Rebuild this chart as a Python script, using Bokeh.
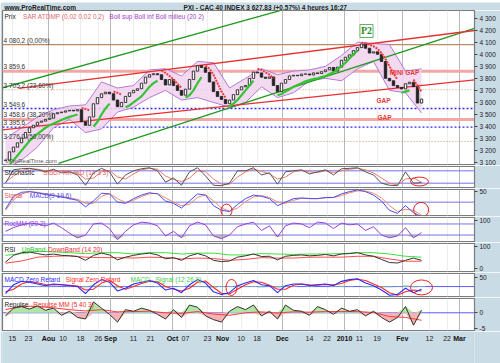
import re
import numpy as np
from bokeh.plotting import figure
from bokeh.models import Range1d, FixedTicker, Span, Label
from bokeh.layouts import column
from bokeh.embed import file_html
from bokeh.resources import INLINE
from bokeh.core.properties import value

BG = "#c9dbe5"
FONT = "Liberation Sans"

# ---------------- data (bar index = one 4-bar block of the 4h chart) ----------------
close = [3120, 3190, 3229, 3265, 3305, 3350, 3390, 3410, 3436, 3445,
         3460, 3470, 3506, 3515, 3520, 3530, 3535, 3530, 3540, 3440,
         3410, 3480, 3589, 3640, 3672, 3685, 3672, 3620, 3565, 3600,
         3650, 3680, 3700, 3714, 3760, 3810, 3830, 3838, 3830, 3790,
         3745, 3790, 3740, 3700, 3660, 3710, 3790, 3860, 3905, 3890,
         3850, 3770, 3690, 3650, 3625, 3590, 3620, 3665, 3705, 3730,
         3740, 3800, 3851, 3845, 3810, 3800, 3812, 3740, 3690, 3760,
         3790, 3820, 3825, 3822, 3835, 3836, 3828, 3845, 3840, 3855,
         3870, 3890, 3860, 3893, 3950, 3975, 3995, 4030, 4055, 4085,
         4050, 4010, 4020, 4000, 3940, 3800, 3780, 3740, 3725, 3712,
         3755, 3768, 3730, 3595, 3628]

# Bollinger (20,2), one value every 4 bars
bb_up = [3300, 3390, 3480, 3540, 3570, 3580, 3770, 3720, 3740, 3870, 3880, 3820, 3940, 3930,
         3720, 3800, 3880, 3830, 3860, 3870, 3900, 3990, 4100, 4090, 4080, 3860, 3878.5]
bb_dn = [3050, 3120, 3230, 3390, 3460, 3350, 3380, 3520, 3560, 3640, 3700, 3620, 3640, 3600,
         3560, 3600, 3730, 3640, 3680, 3780, 3800, 3780, 3880, 3940, 3700, 3680, 3513]

# SAR, one value per bar; trend segments (u = below price, d = above)
sar = [3050, 3080, 3120, 3160, 3200, 3240, 3280, 3310, 3340, 3365, 3390, 3410, 3425, 3440, 3455,
       3468, 3480, 3490, 3500,
       3555, 3545, 3535,
       3400, 3440, 3500, 3550, 3590,
       3690, 3680, 3665,
       3560, 3575, 3600, 3625, 3650, 3690, 3730, 3760, 3780,
       3865, 3845, 3820, 3790, 3755, 3720,
       3640, 3660, 3700, 3760, 3810,
       3905, 3880, 3830, 3760, 3690, 3640,
       3570, 3590, 3620, 3660, 3700, 3740, 3780,
       3880, 3870, 3850, 3830, 3800,
       3660, 3670, 3690, 3710, 3730, 3745, 3760, 3775, 3785, 3795, 3800, 3810, 3820, 3835, 3850,
       3875, 3900, 3930, 3965, 4000, 4030,
       4095, 4090, 4080, 4065, 4045, 4010, 3960, 3900, 3840, 3790,
       3680, 3690, 3700,
       3790, 3740, 3690]
sar_trend = ["u"] * 19 + ["d"] * 3 + ["u"] * 5 + ["d"] * 3 + ["u"] * 9 + ["d"] * 6 + ["u"] * 5 + \
            ["d"] * 6 + ["u"] * 7 + ["d"] * 5 + ["u"] * 21 + ["d"] * 10 + ["u"] * 3 + ["d"] * 3

# horizontal levels
fibo_levels = [4080.2, 3705.2, 3276.0]
fibo_texts = ["4 080,2 (0,00%)", "3 705,2 (23,60%)", "3 276,0 (50,00%)"]
pink_levels = [3859.6, 3458.6]
pink_texts = ["3 859,6", "3 458,6 (38,20%)"]
blue_levels = [3549.6, 3395.6]
blue_texts = ["3 549,6", "3 395,6"]

# trend lines (bar index, price)
tl_x0 = [-1.25, 13.25, 3.25, -0.75]
tl_p0 = [3716, 3093.6, 3716, 3371.6]
tl_x1 = [75.0, 117.25, 117.25, 117.25]
tl_p1 = [4421, 4214, 4197, 3786.6]
tl_col = ["#1f9a1f", "#1f9a1f", "#e83030", "#e83030"]

# price-panel notes
note_x = [94.5, 94.75, 99.75]
note_p = [3616, 3475, 3849]
note_txt = ["GAP", "GAP", "MINI GAP"]
p2_x, p2_p = 90.25, 4193

# indicators, one value every 2 bars
stoch_k = [20, 85, 90, 92, 85, 75, 88, 70, 75, 60, 10, 70, 92, 75, 15, 60, 80, 90, 95, 80,
           25, 45, 10, 75, 95, 55, 10, 8, 20, 80, 80, 95, 60, 70, 15, 75, 80, 85, 65, 75,
           85, 60, 90, 92, 95, 75, 60, 20, 10, 8, 75, 20, 23]
stoch_d = [25, 55, 80, 90, 88, 80, 82, 78, 75, 68, 40, 45, 75, 82, 50, 40, 65, 85, 92, 88,
           55, 38, 28, 45, 80, 75, 40, 15, 15, 50, 75, 88, 78, 65, 40, 50, 75, 82, 75, 72,
           80, 72, 80, 88, 92, 85, 70, 45, 20, 12, 40, 45, 25]
sig_a = [-30, 25, 42, 45, 40, 32, 28, 22, 15, 8, -20, 5, 38, 35, 0, -5, 15, 30, 40, 35,
         5, -5, -25, 5, 35, 30, -15, -35, -40, -10, 15, 30, 25, 15, -15, 0, 15, 18, 15, 15,
         20, 20, 35, 45, 52, 45, 30, 5, -35, -48, -15, -45, -62]
sig_b = [-35, 10, 35, 44, 42, 36, 30, 25, 18, 12, -5, -5, 25, 37, 15, -2, 8, 24, 36, 37,
         18, 0, -15, -8, 20, 32, 5, -25, -38, -25, 2, 22, 28, 20, 0, -5, 8, 16, 16, 15,
         18, 20, 28, 40, 48, 48, 38, 18, -15, -40, -30, -35, -55]
roc = [40, 60, 75, 85, 80, 70, 85, 60, 30, 5, 20, 80, 85, 55, -5, 40, 75, 90, 85, 70,
       15, 40, 5, 70, 90, 75, 15, 0, 20, 65, 80, 90, 45, 70, 10, 70, 85, 80, 60, 90,
       85, 55, 85, 75, 80, 45, 65, 20, 5, 15, 60, 5, 33]
rsi = [30, 60, 72, 75, 68, 62, 66, 60, 58, 55, 38, 60, 70, 62, 40, 52, 60, 66, 70, 62,
       45, 50, 38, 58, 68, 58, 38, 32, 35, 52, 58, 66, 55, 56, 40, 56, 60, 62, 58, 60,
       64, 58, 66, 68, 72, 62, 56, 42, 28, 26, 38, 48, 37.7]
macd = [-40, 10, 30, 25, 15, 5, 15, 10, 5, 0, -40, 10, 40, 25, -25, -10, 15, 25, 35, 20,
        -20, -10, -35, 10, 40, 20, -30, -45, -35, 5, 20, 35, 10, 5, -35, 5, 15, 15, 5, 10,
        15, 5, 30, 40, 45, 20, 5, -20, -50, -45, -10, -35, -15]
macd_sig = [-30, -15, 15, 28, 22, 12, 10, 12, 8, 3, -20, -15, 20, 35, 5, -15, 0, 18, 30, 28,
            0, -15, -25, -10, 25, 32, -5, -38, -42, -15, 10, 28, 25, 8, -15, -15, 8, 15, 10, 8,
            12, 10, 18, 35, 42, 35, 15, -5, -35, -50, -30, -20, -25]
macd_hist = [0, 6, 5, 2, -2, -3, 2, 0, -1, -1, -6, 7, 6, -3, -8, 2, 5, 3, 2, -3,
             -6, 2, -3, 7, 5, -4, -8, -2, 3, 6, 4, 3, -5, -1, -7, 6, 3, 1, -2, 1,
             1, -2, 4, 2, 1, -5, -4, -5, -6, 2, 7, -5, 3]
repulse = [-1.0, 1.5, 2.0, 1.2, 2.2, 0.8, 1.5, -0.8, 0.5, -1.5, -2.0, 3.5, 1.5, -0.5, -3.0,
           1.0, 0.5, 1.5, 0.8, -0.5, -2.0, 1.0, -1.5, 2.5, 1.8, -1.0, -2.2, -3.0, 0.5, 2.0,
           1.0, 2.5, -1.0, 0.5, -2.0, 2.5, 0.8, 0.5, -0.8, 2.0, 1.0, -0.5, 1.5, 0.5, 1.0,
           -1.0, 0.5, -1.5, -3.0, -1.5, 2.0, -4.0, 0.85]
# smoother series, one value every 4 bars
rsi_up = [60, 68, 78, 76, 72, 68, 72, 72, 66, 72, 72, 66, 70, 70, 62, 62, 68, 66, 64, 66,
          66, 68, 72, 72, 66, 56, 52]
rsi_dn = [25, 35, 52, 56, 58, 52, 50, 50, 48, 52, 50, 44, 48, 46, 38, 42, 50, 48, 48, 52,
          52, 52, 56, 56, 44, 34, 34]
repulse_mm = [1.0, 2.2, 2.0, 1.6, 1.0, 0.6, 1.0, 0.3, 0.4, 0.5, 0.0, -0.2, 0.4, -0.4, -0.8,
              0.0, 0.3, -0.1, 0.3, 0.2, 0.4, 0.4, 0.4, 0.1, -1.2, -1.5, -2.4]

# date axis (bar index positions)
day_pos = [1.7, 5.75, 14.4, 18.75, 23.2, 32, 36.25, 45, 50.5, 58.9, 62.9, 76, 80.4, 88.5, 92.9, 106, 110.4]
day_lbl = ["15", "23", "10", "18", "26", "11", "21", "07", "23", "10", "18", "14", "22", "11", "19", "12", "22"]
month_pos = [10.75, 26.25, 41.75, 54.25, 69.2, 84.75, 99.2, 113.5]
month_lbl = ["Aou", "Sep", "Oct", "Nov", "Dec", "2010", "Fev", "Mar"]

# hand-drawn circles: (bar, value, width in bars, height in value units)
circ_stoch = ([103.5], [28], [4.5], [43])
circ_sig = ([55.25, 103.9], [-36, -33], [2.75, 3.75], [55, 64])
circ_macd = ([56.5, 104.0], [-5, -5], [2.75, 5.5], [92, 86])

header_left = "www.ProRealTime.com"
header_center = "PXI - CAC 40 INDEX    3 627,83 (+0,57%)    4 heures  16:27"

# ---------------- build ----------------
XR = (-0.75, 117.25)
xr = Range1d(*XR)
FW = 472
idx = np.arange(len(close))
i2 = np.arange(0, len(close), 2)[:len(stoch_k)]
i4 = np.arange(0, len(close), 4)[:len(bb_up)]


def text_w(s, size):
    w = 0.0
    for ch in s:
        if ch == " ":
            w += 0.28
        elif ch.isdigit():
            w += 0.556
        elif ch.isupper():
            w += 0.68
        elif ch.islower():
            w += 0.52
        else:
            w += 0.33
    return w * size


def panel(fh, yr, ticks, top=1, bottom=1):
    p = figure(frame_width=FW, frame_height=fh, x_range=xr, y_range=Range1d(*yr),
               output_backend="svg", toolbar_location=None, x_axis_location=None,
               y_axis_location="right", min_border_left=2, min_border_right=26,
               min_border_top=top, min_border_bottom=bottom,
               background_fill_color="white", border_fill_color=BG,
               outline_line_color="#7c7c7c", outline_line_width=1.2)
    p.ygrid.visible = False
    p.xgrid.ticker = FixedTicker(ticks=month_pos, minor_ticks=day_pos)
    p.xgrid.grid_line_color = "#b8b8b8"
    p.xgrid.minor_grid_line_color = "#ededed"
    ax = p.yaxis[0]
    ax.ticker = FixedTicker(ticks=[t for t, _ in ticks])
    ax.major_label_overrides = {t: s for t, s in ticks}
    ax.major_label_text_font = FONT
    ax.major_label_text_font_size = "6.5px"
    ax.major_label_text_color = "#222222"
    ax.major_tick_out = 3
    ax.major_tick_in = 0
    ax.minor_tick_out = 0
    ax.axis_line_color = "#7c7c7c"
    ax.major_tick_line_color = "#444444"
    ax.major_label_standoff = 2
    return p


def legend(p, parts, size=6.5):
    off = 2
    for txt, col in parts:
        p.add_layout(Label(x=XR[0], y=p.y_range.end, x_offset=off, y_offset=-2, text=txt,
                           text_color=col, text_font=FONT, text_font_size=f"{size}px",
                           text_baseline="top"))
        off += text_w(txt, size) + 4


def vlabel(p, txt, y, color, bg="white"):
    p.add_layout(Label(x=XR[1], y=y, x_offset=2, text=txt, text_color=color, text_font=FONT,
                       text_font_size="6px", text_baseline="middle", text_align="left",
                       background_fill_color=bg, border_line_color="#555555",
                       border_line_width=1, padding=1))


def hspan(p, v, color, width=1, dash="solid", alpha=1.0):
    p.add_layout(Span(location=v, dimension="width", line_color=color, line_width=width,
                      line_dash=dash, line_alpha=alpha, level="underlay"))


# header strip
hdr = figure(frame_width=500, frame_height=10, x_range=Range1d(0, 500), y_range=Range1d(0, 10),
             output_backend="svg", toolbar_location=None, x_axis_location=None,
             y_axis_location=None, min_border=0, outline_line_color=None,
             background_fill_color=BG, border_fill_color=BG)
hdr.grid.visible = False
hdr.text(x=[2], y=[5.2], text=[header_left], text_font=value(FONT), text_font_size="6.5px",
         text_font_style="bold", text_color="#1c1c1c", text_baseline="middle", text_align="left")
hdr.text(x=[269], y=[5.2], text=[header_center], text_font=value(FONT), text_font_size="6.5px",
         text_font_style="bold", text_color="#1c1c1c", text_baseline="middle", text_align="center")

# price panel
price_ticks = [(t, f"{t // 1000} {t % 1000:03d}") for t in range(3100, 4400, 100)]
pp = panel(154, (3085, 4363), price_ticks, top=0)

for v in pink_levels:
    hspan(pp, v, "#f2a6a6", width=3)
for v in blue_levels:
    hspan(pp, v, "#2a2aff", width=1.3, dash="2 2")
hspan(pp, fibo_levels[0], "#b98a66", width=1.2)
for v in fibo_levels[1:]:
    hspan(pp, v, "#c49a7a", width=1, dash="1 2")

pp.varea(x=i4, y1=bb_dn, y2=bb_up, fill_color="#f1d3ef", fill_alpha=0.85)
pp.line(i4, bb_up, line_color="#b27ad6", line_width=1)
pp.line(i4, bb_dn, line_color="#b27ad6", line_width=1)
pp.segment(x0=tl_x0, y0=tl_p0, x1=tl_x1, y1=tl_p1, line_color=tl_col, line_width=1.3)

c = np.array(close, dtype=float)
o = np.r_[c[0], c[:-1]]
up = c >= o
pp.vbar(x=idx[up], top=c[up], bottom=o[up], width=0.6, fill_color="white", line_color="#222222", line_width=0.9)
pp.vbar(x=idx[~up], top=o[~up], bottom=c[~up], width=0.6, fill_color="#222222", line_color="#222222", line_width=0.9)

s = np.array(sar, dtype=float)
tr = np.array(sar_trend)
sx = np.arange(len(s))
pp.line(sx, np.where(tr == "u", s, np.nan), line_color="#33c433", line_width=2.2)
pp.line(sx, np.where(tr == "d", s, np.nan), line_color="#ee3b3b", line_width=2, line_dash="2 1")

for v, t in zip(fibo_levels + pink_levels + blue_levels, fibo_texts + pink_texts + blue_texts):
    pp.add_layout(Label(x=XR[0], y=v, x_offset=1, y_offset=1, text=t, text_font=FONT,
                        text_font_size="6.5px", text_color="#333333", text_baseline="bottom"))
for x, v, t in zip(note_x, note_p, note_txt):
    pp.add_layout(Label(x=x, y=v, text=t, text_font=FONT, text_font_size="6.5px",
                        text_font_style="bold", text_color="#e43c3c", text_align="center",
                        text_baseline="middle"))
pp.add_layout(Label(x=p2_x, y=p2_p, text="P2", text_font="Liberation Serif", text_font_size="10px",
                    text_font_style="bold", text_color="#2a8a2a", text_align="center",
                    text_baseline="middle", background_fill_color="white",
                    border_line_color="#66b066", border_line_width=1, padding=1))
pp.add_layout(Label(x=XR[0], y=3085, x_offset=2, y_offset=1, text="\u00a9ProRealTime.com",
                    text_font=FONT, text_font_size="6px", text_color="#555555", text_baseline="bottom"))
legend(pp, [("Prix", "#222222"), ("SAR ATDMP (0,02 0,02 0,2)", "#e06a6a"),
            ("Boll sup Boll inf Boll milieu (20 2)", "#a040c8")])
vlabel(pp, "3 878,5", 3878.5, "#a040c8")
vlabel(pp, "3 695,0", 3695.0, "#a040c8")
vlabel(pp, "3 513", 3513, "#a040c8")
vlabel(pp, "3 627,83", 3627.83, "#222222", bg="#f2c21a")

# stochastic
ps = panel(21, (-1, 101), [])
hspan(ps, 80, "#7474ee")
hspan(ps, 20, "#7474ee")
ps.line(i2, stoch_d, line_color="#f07a66", line_width=1)
ps.line(i2, stoch_k, line_color="#555555", line_width=1)
ps.ellipse(x=circ_stoch[0], y=circ_stoch[1], width=circ_stoch[2], height=circ_stoch[3],
           fill_color=None, line_color="#e02020", line_width=1)
legend(ps, [("Stochastic", "#222222"), ("Stoch %K %D (14 3 3)", "#e05a5a")])
vlabel(ps, "80", 80, "#3a3aee")
vlabel(ps, "22,854", 22.854, "#222222")

# signal MACD
pg = panel(26, (-57, 54), [(45, "50")])
hspan(pg, 0, "#7474ee")
pg.line(i2, sig_b, line_color="#f08a6a", line_width=1)
pg.line(i2, sig_a, line_color="#4a4aee", line_width=1)
pg.ellipse(x=circ_sig[0], y=circ_sig[1], width=circ_sig[2], height=circ_sig[3],
           fill_color=None, line_color="#e02020", line_width=1)
legend(pg, [("Signal", "#e05a5a"), ("MACD(9 19 6)", "#4a4aee")])
vlabel(pg, "0", 0, "#3a3aee")
vlabel(pg, "-65,424", -44, "#e03030")

# RocMM
pr = panel(24, (-15, 115), [(100, "100")])
hspan(pr, 80, "#7474ee")
hspan(pr, 20, "#7474ee")
rv = np.array(roc, dtype=float)
pr.varea(x=i2, y1=np.minimum(rv, 20), y2=20, fill_color="#a9a9a9", fill_alpha=0.8)
pr.line(i2, roc, line_color="#9440d8", line_width=1)
legend(pr, [("RocMM (20 2)", "#9440d8")])
vlabel(pr, "80", 80, "#3a3aee")
vlabel(pr, "33,435", 33.435, "#9440d8")

# RSI
pi = panel(28, (-12, 113), [(100, "100"), (0, "0")])
pi.line(i4, rsi_up, line_color="#3ee03e", line_width=1)
pi.line(i4, rsi_dn, line_color="#ff4a4a", line_width=1)
pi.line(i2, rsi, line_color="#333333", line_width=1)
legend(pi, [("RSI", "#222222"), ("UpBand", "#22bb22"), ("DownBand (14 20)", "#ee3030")])
vlabel(pi, "37,741", 37.741, "#222222")

# MACD zero retard
pm = panel(23, (-57, 75), [(50, "50")])
hspan(pm, 0, "#5a5aff")
pm.vbar(x=i2, top=macd_hist, bottom=0, width=1.8, fill_color="#9fe39a", line_color=None)
pm.line(i2, macd_sig, line_color="#ff2a2a", line_width=1.1)
pm.line(i2, macd, line_color="#2a2aff", line_width=1.1)
pm.ellipse(x=circ_macd[0], y=circ_macd[1], width=circ_macd[2], height=circ_macd[3],
           fill_color=None, line_color="#e02020", line_width=1)
legend(pm, [("MACD Zero Retard", "#2a2aff"), ("Signal Zero Retard", "#ff2a2a"),
            ("MACD - Signal (12 26 9)", "#44cc44")])
vlabel(pm, "14,946", 14.946, "#22aa22")
vlabel(pm, "-14,951", -14.951, "#2a2aff")

# Repulse
pq = panel(32, (-5.7, 4.6), [(0, "0"), (-5, "-5")])
rp = np.array(repulse, dtype=float)
pq.varea(x=i2, y1=0, y2=np.maximum(rp, 0), fill_color="#aee6a4")
pq.varea(x=i2, y1=np.minimum(rp, 0), y2=0, fill_color="#f4b4b4")
hspan(pq, 0, "#5a5aff")
pq.line(i4, repulse_mm, line_color="#ff3a3a", line_width=1)
pq.line(i2, repulse, line_color="#333333", line_width=1)
legend(pq, [("Repulse", "#222222"), ("Repulse MM (5 40 3)", "#ee3030")])
vlabel(pq, "0,8537", 0.8537, "#222222")
vlabel(pq, "-2,4087", -2.4087, "#e03030")

# date strip
dd = figure(frame_width=FW, frame_height=32, x_range=xr, y_range=Range1d(0, 32),
            output_backend="svg", toolbar_location=None, x_axis_location=None,
            y_axis_location=None, min_border_left=2, min_border_right=26, min_border_top=0,
            min_border_bottom=0, outline_line_color=None, background_fill_color=BG,
            border_fill_color=BG)
dd.grid.visible = False
dd.text(x=day_pos, y=[25] * len(day_pos), text=day_lbl, text_font=value(FONT),
        text_font_size="7px", text_align="center", text_baseline="middle", text_color="#222222")
dd.text(x=month_pos, y=[25] * len(month_pos), text=month_lbl, text_font=value(FONT),
        text_font_size="7px", text_font_style="bold", text_align="center",
        text_baseline="middle", text_color="#111111")

layout = column(hdr, pp, ps, pg, pr, pi, pm, pq, dd, spacing=0)
html = file_html(layout, INLINE, title="PXI - CAC 40 INDEX")
html = re.sub(r"<body[^>]*>", '<body style="margin:0;padding:0;overflow:hidden;background:%s">' % BG, html, count=1)
open("out.html", "w").write(html)
